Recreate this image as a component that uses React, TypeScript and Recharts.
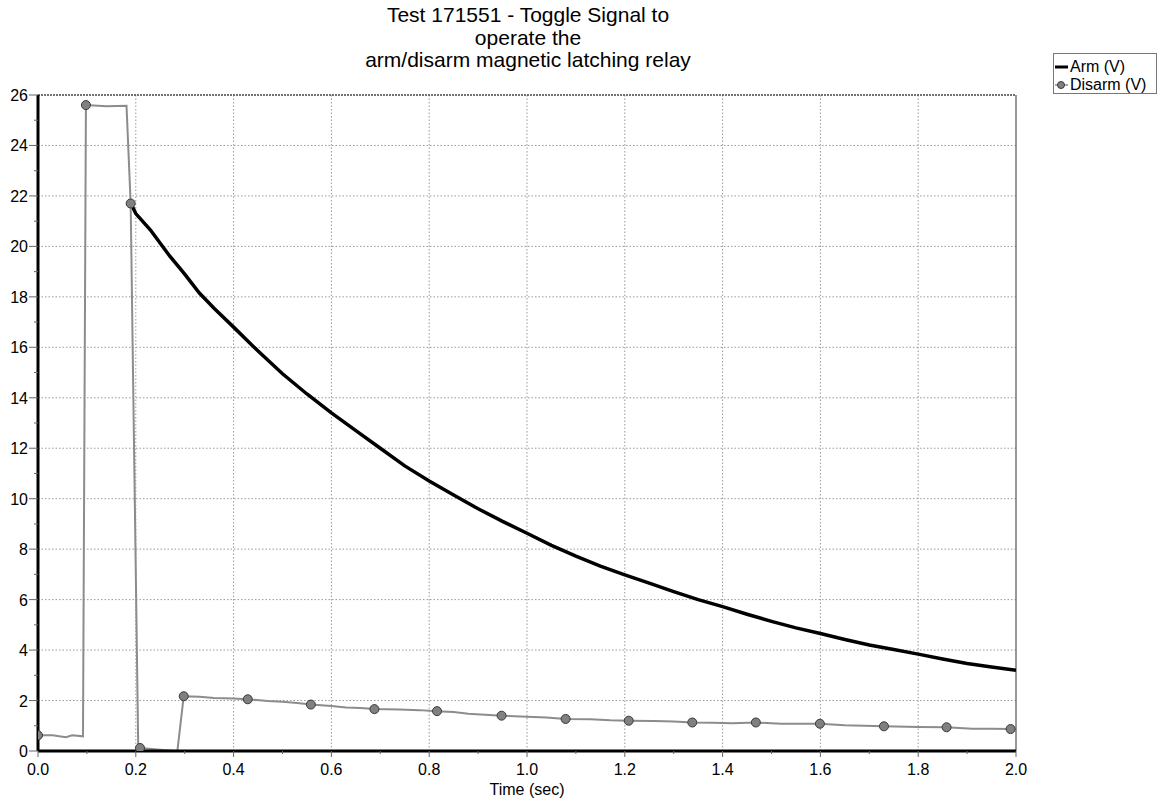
import { LineChart, Line, XAxis, YAxis, CartesianGrid, ReferenceLine } from "recharts";

const titleLines = ["Test 171551 - Toggle Signal to", "operate the", "arm/disarm magnetic latching relay"];

// Arm (V): only present after the toggle at ~0.19 s
const armTimes = [
  0.19, 0.2, 0.23, 0.27, 0.3, 0.33, 0.36, 0.4, 0.45, 0.5, 0.55, 0.6, 0.65, 0.7, 0.75, 0.8, 0.85, 0.9, 0.95, 1.0,
  1.05, 1.1, 1.15, 1.2, 1.25, 1.3, 1.35, 1.4, 1.45, 1.5, 1.55, 1.6, 1.65, 1.7, 1.75, 1.8, 1.85, 1.9, 1.95, 2.0,
];
const armVolts = [
  21.7, 21.3, 20.65, 19.6, 18.9, 18.15, 17.55, 16.8, 15.85, 14.95, 14.15, 13.4, 12.7, 12.0, 11.3, 10.7, 10.15, 9.6, 9.1, 8.63,
  8.15, 7.72, 7.33, 6.98, 6.65, 6.32, 6.0, 5.72, 5.42, 5.14, 4.88, 4.66, 4.42, 4.2, 4.02, 3.84, 3.65, 3.47, 3.33, 3.2,
];

// Disarm (V)
const disarmTimes = [
  0.0, 0.03, 0.057, 0.07, 0.092, 0.098, 0.14, 0.181, 0.1895, 0.205, 0.2086, 0.25, 0.285, 0.298, 0.33, 0.36, 0.4, 0.429,
  0.47, 0.5, 0.53, 0.558, 0.6, 0.63, 0.66, 0.688, 0.74, 0.78, 0.816, 0.85, 0.88, 0.948, 1.0, 1.04, 1.079, 1.13, 1.17,
  1.208, 1.26, 1.3, 1.338, 1.38, 1.42, 1.468, 1.52, 1.599, 1.65, 1.69, 1.73, 1.8, 1.858, 1.91, 1.95, 1.989, 2.0,
];
const disarmVolts = [
  0.62, 0.62, 0.55, 0.62, 0.58, 25.6, 25.55, 25.57, 21.7, 0.1, 0.12, 0.05, 0.0, 2.17, 2.15, 2.1, 2.08, 2.05,
  1.98, 1.95, 1.9, 1.84, 1.78, 1.72, 1.7, 1.66, 1.64, 1.62, 1.58, 1.55, 1.48, 1.4, 1.36, 1.33, 1.27, 1.26, 1.22,
  1.2, 1.19, 1.17, 1.13, 1.12, 1.1, 1.13, 1.08, 1.08, 1.02, 1.0, 0.98, 0.95, 0.94, 0.88, 0.88, 0.87, 0.87,
];
const markerTimes = [
  0.0, 0.098, 0.1895, 0.2086, 0.298, 0.429, 0.558, 0.688, 0.816, 0.948, 1.079, 1.208, 1.338, 1.468, 1.599, 1.73, 1.858, 1.989,
];

const xTicks = [
  0, 0.1, 0.2, 0.3, 0.4, 0.5, 0.6, 0.7, 0.8, 0.9, 1.0, 1.1, 1.2, 1.3, 1.4, 1.5, 1.6, 1.7, 1.8, 1.9, 2.0,
];
const yTicks = [0, 1, 2, 3, 4, 5, 6, 7, 8, 9, 10, 11, 12, 13, 14, 15, 16, 17, 18, 19, 20, 21, 22, 23, 24, 25, 26];
const xGrid = [0.2, 0.4, 0.6, 0.8, 1.0, 1.2, 1.4, 1.6, 1.8];
const yGrid = [2, 4, 6, 8, 10, 12, 14, 16, 18, 20, 22, 24];

const armData = armTimes.map((t, i) => ({ t, v: armVolts[i] }));
const disarmData = disarmTimes.map((t, i) => ({ t, v: disarmVolts[i] }));
const markerSet = new Set(markerTimes);

const FONT = "'Liberation Sans', Arial, sans-serif";

function XTick({ x, y, payload }: any) {
  const v = payload.value as number;
  const major = Math.round(v * 10) % 2 === 0;
  return (
    <g>
      <line x1={x} x2={x} y1={y} y2={y + (major ? 6 : 3)} stroke="#666" />
      {major && (
        <text x={x} y={y + 24} textAnchor="middle" fontSize={16} fill="#000">
          {v.toFixed(1)}
        </text>
      )}
    </g>
  );
}

function YTick({ x, y, payload }: any) {
  const v = payload.value as number;
  const major = v % 2 === 0;
  return (
    <g>
      <line x1={x - (major ? 9 : 4)} x2={x} y1={y} y2={y} stroke="#666" />
      {major && (
        <text x={x - 10} y={y + 6} textAnchor="end" fontSize={16} fill="#000">
          {v}
        </text>
      )}
    </g>
  );
}

function DisarmDot(p: any) {
  if (!markerSet.has(p.payload.t)) return <g key={p.index} />;
  return <circle key={p.index} cx={p.cx} cy={p.cy} r={4.5} fill="#808080" stroke="#3a3a3a" strokeWidth={1} />;
}

export default function App() {
  return (
    <div style={{ position: "absolute", left: 0, top: 0, width: 1159, height: 802, fontFamily: FONT, background: "#fff" }}>
      <div style={{ position: "absolute", left: 0, top: 4, width: 1056, textAlign: "center", fontSize: 21, lineHeight: "22.5px", color: "#000" }}>
        {titleLines.map((l) => (
          <div key={l}>{l}</div>
        ))}
      </div>

      <div
        style={{
          position: "absolute", left: 1053, top: 53, width: 104, height: 41, border: "1px solid #777",
          fontSize: 16, lineHeight: "18px", color: "#000", padding: "4px 0 0 0", boxSizing: "border-box",
        }}
      >
        <div style={{ display: "flex", alignItems: "center" }}>
          <svg width={16} height={18}>
            <line x1={1} x2={14} y1={9} y2={9} stroke="#000" strokeWidth={3} />
          </svg>
          <span>Arm (V)</span>
        </div>
        <div style={{ display: "flex", alignItems: "center" }}>
          <svg width={16} height={18}>
            <line x1={1} x2={14} y1={9} y2={9} stroke="#8c8c8c" strokeWidth={1.5} />
            <circle cx={7} cy={9} r={3.5} fill="#808080" stroke="#3a3a3a" />
          </svg>
          <span>Disarm (V)</span>
        </div>
      </div>

      <LineChart width={1159} height={802} margin={{ top: 95, right: 143, bottom: 7, left: 0 }} style={{ fontFamily: FONT }}>
        <CartesianGrid stroke="#999" strokeDasharray="1.5 2" horizontalValues={yGrid} verticalValues={xGrid} />
        <XAxis
          type="number" dataKey="t" domain={[0, 2]} ticks={xTicks} interval={0} height={44}
          tickSize={0} tickMargin={0} tick={<XTick />} tickLine={false}
          axisLine={{ stroke: "#000", strokeWidth: 3 }}
          label={{ value: "Time (sec)", position: "insideBottom", offset: 0, fill: "#000", fontSize: 16 }}
          allowDataOverflow
        />
        <YAxis
          type="number" domain={[0, 26]} ticks={yTicks} interval={0} width={38}
          tickSize={0} tickMargin={0} tick={<YTick />} tickLine={false}
          axisLine={{ stroke: "#000", strokeWidth: 3 }}
          allowDataOverflow
        />
        <ReferenceLine y={26} stroke="#444" strokeDasharray="2 1" strokeWidth={1.5} />
        <ReferenceLine x={2} stroke="#777" strokeWidth={1.5} />
        <Line data={armData} dataKey="v" name="Arm (V)" type="linear" stroke="#000" strokeWidth={3.5} dot={false} isAnimationActive={false} />
        <Line data={disarmData} dataKey="v" name="Disarm (V)" type="linear" stroke="#8c8c8c" strokeWidth={2} dot={DisarmDot} activeDot={false} isAnimationActive={false} />
      </LineChart>
    </div>
  );
}
